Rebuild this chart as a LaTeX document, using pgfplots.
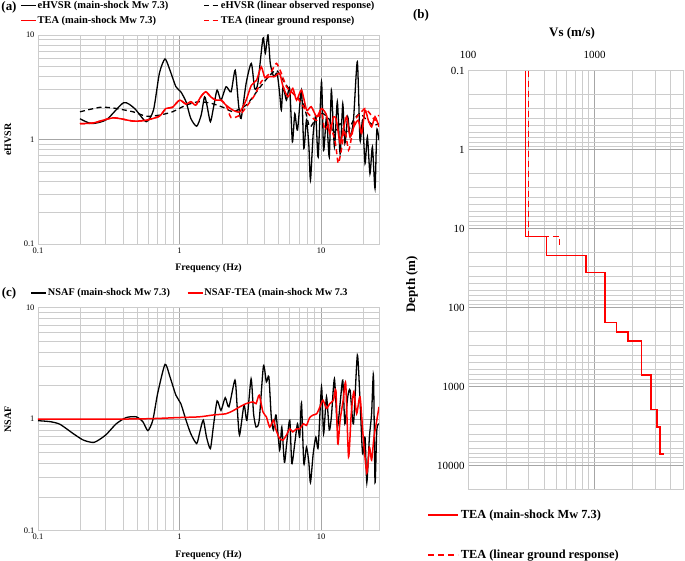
\documentclass[border=0pt]{standalone}
\usepackage{fontspec}
\setmainfont{Liberation Serif}
\usepackage{pgfplots}
\pgfplotsset{compat=1.18}
\definecolor{majg}{HTML}{A6A6A6}
\definecolor{ming}{HTML}{CCCCCC}
\definecolor{tred}{HTML}{FF0000}
\tikzset{
  blk/.style={black, line width=1.3bp, smooth, tension=0.4},
  rd/.style={tred, line width=1.5bp, smooth, tension=0.4},
  dsh/.style={dash pattern=on 5bp off 3.5bp},
}
\begin{document}
\begin{tikzpicture}[x=1bp,y=1bp]
\useasboundingbox (0,0) rectangle (685,561);
% ---------------- (a) ----------------
\begin{axis}[scale only axis, anchor=south west, at={(38bp,317bp)}, width=341bp, height=209bp,
  xmode=log, ymode=log, clip mode=individual,
  xmin=0.1, xmax=25.6, ymin=0.1, ymax=10,
  xtick={0.1,1,10}, xticklabels={0.1,1,10},
  ytick={0.1,1,10}, yticklabels={0.1,1,10},
  minor xtick={0.2,0.3,0.4,0.5,0.6,0.7,0.8,0.9,2,3,4,5,6,7,8,9,20},
  minor ytick={0.2,0.3,0.4,0.5,0.6,0.7,0.8,0.9,2,3,4,5,6,7,8,9},
  grid=both,
  major grid style={majg, line width=0.9bp},
  minor grid style={ming, line width=0.8bp},
  axis line style={ming, line width=0.8bp},
  tick style={draw=none},
  tick label style={font=\fontsize{8.5}{9}\selectfont},
  xlabel={Frequency (Hz)}, ylabel={eHVSR},
  label style={font=\bfseries\fontsize{10}{12}\selectfont},
  xlabel style={at={(axis description cs:0.5,-0.115)}, anchor=center},
  ylabel style={at={(axis description cs:-0.088,0.5)}, anchor=center},
  legend image code/.code={\draw[#1] (0bp,0bp) -- (15bp,0bp);},
  legend cell align=left,
  legend columns=2,
  legend style={draw=none, fill=none, at={(axis description cs:-0.053,1.17)}, anchor=north west,
    font=\bfseries\fontsize{10.5}{12}\selectfont, inner sep=0pt, row sep=4bp,
    nodes={inner xsep=1bp, inner ysep=1.2bp},
    /tikz/every even column/.append style={column sep=34bp}},
  /pgf/number format/assume math mode=true,
]
\addplot[blk] coordinates {
(0.198,1.58)(0.239,1.42)(0.305,1.55)(0.403,2.25)(0.481,1.98)(0.581,1.48)(0.654,1.91)(0.72,4.3)(0.789,5.9)(0.855,4.6)(0.942,3.2)(1.02,2.86)(1.11,2.3)(1.20,1.59)(1.32,1.34)(1.42,1.71)(1.50,2.56)(1.56,2.13)(1.65,1.48)(1.74,2.06)(1.84,2.97)(1.96,2.38)(2.13,3.2)(2.31,2.86)(2.47,4.6)(2.61,2.13)(2.72,1.59)(2.95,3.44)(3.21,5.35)(3.39,3.08)(3.57,3.44)(3.88,9.3)(4.03,6.7)(4.21,10)(4.37,5.35)(4.62,4.0)(4.88,4.3)(5.09,2.76)(5.23,1.91)(5.38,3.2)(5.68,2.38)(5.99,3.08)(6.26,0.95)(6.51,1.77)(6.80,1.23)(7.26,2.97)(7.54,0.82)(7.87,1.53)(8.18,0.88)(8.40,0.41)(8.78,1.14)(9.17,1.65)(9.52,0.68)(10.05,3.57)(10.4,0.79)(10.9,1.65)(11.4,0.68)(11.8,2.97)(12.4,0.85)(13.0,2.3)(13.6,0.73)(14.2,2.2)(14.7,0.92)(15.4,1.65)(16.0,1.06)(16.9,1.53)(18.0,5.55)(18.8,0.98)(19.6,1.53)(20.4,0.59)(21.2,1.06)(22.1,0.47)(23.0,0.85)(24.0,0.34)(24.7,1.23)(25.6,0.98)};
\addlegendentry{eHVSR (main-shock Mw 7.3)}
\addplot[blk, dsh] coordinates {
(0.198,1.84)(0.273,2.03)(0.34,2.0)(0.47,1.84)(0.58,1.67)(0.72,1.71)(0.89,1.84)(1.11,2.13)(1.37,2.3)(1.71,2.2)(2.13,1.98)(2.38,1.84)(2.95,2.13)(3.5,2.86)(3.88,3.44)(4.33,4.1)(4.83,4.6)(5.38,3.7)(6.0,2.97)(6.7,2.56)(7.5,2.2)(8.3,1.32)(9.3,1.65)(10.3,1.77)(11.5,1.53)(12.2,1.14)(13.6,1.42)(15.1,1.14)(16.9,1.53)(18.8,1.77)(21.0,1.53)(23.4,1.37)(25.6,1.42)};
\addlegendentry{eHVSR (linear observed response)}
\addplot[rd] coordinates {
(0.198,1.42)(0.246,1.44)(0.34,1.61)(0.47,1.5)(0.58,1.53)(0.72,1.67)(0.80,1.98)(0.89,2.03)(1.0,2.38)(1.11,2.18)(1.20,2.3)(1.30,2.13)(1.41,2.56)(1.53,2.86)(1.66,2.56)(1.80,2.38)(1.96,2.38)(2.13,2.13)(2.38,1.91)(2.66,1.84)(2.95,2.38)(3.21,3.3)(3.5,3.7)(3.77,4.96)(4.0,3.9)(4.33,4.0)(4.7,4.0)(5.09,4.3)(5.38,3.2)(5.83,2.56)(6.3,3.08)(6.7,2.38)(7.26,2.97)(7.9,1.91)(8.5,2.06)(9.3,1.65)(10.05,1.98)(10.9,1.71)(11.5,1.14)(12.2,1.65)(12.8,1.53)(13.6,0.92)(14.3,1.23)(15.1,1.65)(16.0,1.06)(17.0,1.32)(18.3,1.53)(19.3,1.14)(20.4,1.91)(21.5,1.53)(22.7,1.32)(24.0,1.65)(25.6,1.32)};
\addlegendentry{TEA (main-shock Mw 7.3)}
\addplot[rd, dsh] coordinates {
(0.198,1.42)(0.246,1.44)(0.34,1.61)(0.47,1.5)(0.58,1.53)(0.72,1.67)(0.80,1.98)(0.89,2.03)(1.0,2.38)(1.11,2.18)(1.20,2.3)(1.30,2.13)(1.41,2.56)(1.53,2.86)(1.66,2.56)(1.80,2.38)(1.96,2.38)(2.13,2.13)(2.31,1.62)(2.66,1.71)(3.02,2.13)(3.39,2.66)(3.77,3.57)(4.1,4.0)(4.44,4.45)(4.83,5.35)(5.23,4.3)(5.68,3.2)(6.15,2.86)(6.7,2.56)(7.26,2.2)(7.9,1.84)(8.5,1.65)(9.3,1.53)(10.05,1.84)(10.6,1.23)(11.5,1.42)(12.6,0.92)(13.2,0.59)(14.0,0.85)(14.7,1.23)(15.6,0.79)(16.4,1.06)(17.3,1.53)(18.8,1.77)(20.4,1.98)(22.1,1.77)(24.0,1.53)(25.6,1.71)};
\addlegendentry{TEA (linear ground response)}
\node[font=\bfseries\fontsize{13}{14}\selectfont] at (axis description cs:-0.085,1.134) {(a)};
\end{axis}
% ---------------- (c) ----------------
\begin{axis}[scale only axis, anchor=south west, at={(38bp,30.3bp)}, width=341bp, height=223bp,
  xmode=log, ymode=log, clip mode=individual,
  xmin=0.1, xmax=25.6, ymin=0.1, ymax=10,
  xtick={0.1,1,10}, xticklabels={0.1,1,10},
  ytick={0.1,1,10}, yticklabels={0.1,1,10},
  minor xtick={0.2,0.3,0.4,0.5,0.6,0.7,0.8,0.9,2,3,4,5,6,7,8,9,20},
  minor ytick={0.2,0.3,0.4,0.5,0.6,0.7,0.8,0.9,2,3,4,5,6,7,8,9},
  grid=both,
  major grid style={majg, line width=0.9bp},
  minor grid style={ming, line width=0.8bp},
  axis line style={ming, line width=0.8bp},
  tick style={draw=none},
  tick label style={font=\fontsize{8.5}{9}\selectfont},
  xlabel={Frequency (Hz)}, ylabel={NSAF},
  label style={font=\bfseries\fontsize{10}{12}\selectfont},
  xlabel style={at={(axis description cs:0.5,-0.109)}, anchor=center},
  ylabel style={at={(axis description cs:-0.088,0.5)}, anchor=center},
  legend image code/.code={\draw[#1] (0bp,0bp) -- (15bp,0bp);},
  legend cell align=left,
  legend columns=2,
  legend style={draw=none, fill=none, at={(axis description cs:-0.022,1.092)}, anchor=north west,
    font=\bfseries\fontsize{10.3}{12}\selectfont, inner sep=0pt,
    nodes={inner xsep=1bp, inner ysep=1.2bp},
    /tikz/every even column/.append style={column sep=16bp}},
  /pgf/number format/assume math mode=true,
]
\addplot[blk] coordinates {
(0.1,0.97)(0.122,0.95)(0.143,0.90)(0.178,0.74)(0.209,0.65)(0.249,0.62)(0.30,0.72)(0.357,0.91)(0.42,1.035)(0.494,1.05)(0.55,0.95)(0.597,0.79)(0.647,0.98)(0.70,1.7)(0.789,3.1)(0.855,2.4)(0.942,1.64)(1.02,1.38)(1.11,0.98)(1.20,0.74)(1.32,0.605)(1.39,0.77)(1.47,0.98)(1.55,0.69)(1.65,0.545)(1.73,0.85)(1.84,1.46)(1.96,1.2)(2.1,1.56)(2.23,1.29)(2.46,2.24)(2.55,1.29)(2.65,0.72)(2.85,1.34)(2.99,0.98)(3.20,2.3)(3.33,1.12)(3.47,0.85)(3.65,0.98)(3.91,3.0)(4.10,2.16)(4.27,2.4)(4.44,1.05)(4.60,0.8)(4.80,1.09)(5.09,0.53)(5.27,0.85)(5.5,0.41)(5.7,0.6)(6.0,0.98)(6.2,0.40)(6.5,0.6)(6.8,0.91)(7.05,0.69)(7.26,1.4)(7.54,0.40)(7.87,0.56)(8.18,0.41)(8.4,0.27)(8.78,0.49)(9.17,0.69)(9.52,0.56)(10.05,1.95)(10.4,0.74)(10.9,1.59)(11.4,0.8)(11.8,1.05)(12.4,2.3)(13.0,0.85)(13.6,1.38)(14.2,2.24)(14.7,0.91)(15.4,1.59)(16.0,1.82)(16.9,0.91)(18.0,3.75)(18.8,1.48)(19.6,0.49)(20.4,0.69)(21.0,0.27)(21.9,0.69)(22.7,1.12)(23.4,2.48)(24.0,0.27)(24.7,0.8)(25.6,0.91)};
\addlegendentry{NSAF (main-shock Mw 7.3)}
\addplot[rd] coordinates {
(0.1,1.0)(0.3,1.0)(0.6,1.01)(1.0,1.035)(1.38,1.05)(1.72,1.09)(2.13,1.12)(2.38,1.19)(2.66,1.29)(2.95,1.38)(3.3,1.43)(3.47,1.38)(3.65,1.64)(3.88,1.16)(4.1,1.05)(4.33,0.85)(4.6,0.98)(4.8,0.8)(5.09,0.67)(5.38,0.65)(5.68,0.72)(6.0,0.82)(6.3,0.77)(6.7,0.82)(7.05,0.82)(7.5,0.91)(7.87,0.88)(8.3,1.035)(8.78,1.09)(9.3,1.12)(9.8,1.29)(10.3,1.48)(10.9,1.25)(11.5,1.38)(12.2,1.48)(12.7,1.82)(13.1,0.6)(13.6,0.98)(14.3,1.48)(14.9,2.09)(15.6,0.46)(16.3,1.12)(17.0,1.76)(17.8,1.12)(18.8,1.59)(19.8,0.69)(21.0,0.33)(21.9,0.56)(22.7,0.43)(23.6,0.69)(24.7,0.98)(25.6,1.29)};
\addlegendentry{NSAF-TEA (main-shock Mw 7.3}
\node[font=\bfseries\fontsize{13}{14}\selectfont] at (axis description cs:-0.085,1.065) {(c)};
\end{axis}
% ---------------- (b) ----------------
\begin{axis}[scale only axis, anchor=south west, at={(468bp,71.7bp)}, width=215bp, height=418.6bp,
  xmode=log, ymode=log, clip mode=individual,
  xmin=100, xmax=5000, ymin=0.1, ymax=20000, y dir=reverse,
  xticklabel pos=upper,
  xtick={100,1000}, xticklabels={100,1000},
  ytick={0.1,1,10,100,1000,10000}, yticklabels={0.1,1,10,100,1000,10000},
  minor xtick={200,300,400,500,600,700,800,900,2000,3000,4000,5000},
  minor ytick={0.2,0.3,0.4,0.5,0.6,0.7,0.8,0.9,2,3,4,5,6,7,8,9,20,30,40,50,60,70,80,90,200,300,400,500,600,700,800,900,2000,3000,4000,5000,6000,7000,8000,9000},
  grid=both,
  major grid style={majg, line width=0.9bp},
  minor grid style={ming, line width=0.8bp},
  axis line style={ming, line width=0.8bp},
  tick style={draw=none},
  tick label style={font=\fontsize{11}{12}\selectfont},
  xticklabel style={yshift=9bp},
  label style={font=\bfseries\fontsize{13}{14}\selectfont},
  ylabel={Depth (m)},
  ylabel style={at={(axis description cs:-0.26,0.49)}, anchor=center},
  legend image code/.code={\draw[#1] (0bp,0bp) -- (30bp,0bp);},
  legend cell align=left,
  legend style={draw=none, fill=none, at={(axis description cs:-0.19,-0.045)}, anchor=north west,
    font=\bfseries\fontsize{12.4}{14}\selectfont, inner sep=0pt, row sep=27bp,
    nodes={inner xsep=2bp, inner ysep=1.5bp}},
  /pgf/number format/assume math mode=true,
]
\addplot[tred, line width=1.5bp] coordinates {
(285,0.1)(285,12.5)(416,12.5)(416,21.8)(853,21.8)(853,35.7)(1208,35.7)(1208,155)(1495,155)(1495,203)(1840,203)(1840,266)(2346,266)(2346,714)(2782,714)(2782,1950)(3105,1950)(3105,3240)(3300,3240)(3300,7110)(3510,7110)};
\addlegendentry{TEA (main-shock Mw 7.3)}
\addplot[tred, line width=1.5bp, dash pattern=on 6bp off 4bp] coordinates {
(300,0.1)(300,12.5)(530,12.5)(530,18)};
\addlegendentry{TEA (linear ground response)}
\node[font=\bfseries\fontsize{13}{14}\selectfont] at (axis description cs:0.484,1.09) {Vs (m/s)};
\node[font=\bfseries\fontsize{13}{14}\selectfont] at (axis description cs:-0.219,1.133) {(b)};
\end{axis}
\end{tikzpicture}
\end{document}
